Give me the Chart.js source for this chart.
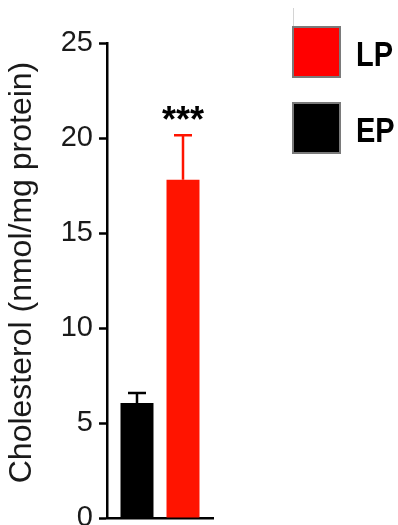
<!DOCTYPE html>
<html>
<head>
<meta charset="utf-8">
<script src="https://cdn.jsdelivr.net/npm/chart.js@4/dist/chart.umd.min.js"></script>
<style>
  html, body { margin: 0; padding: 0; background: #ffffff; }
  #wrap { width: 398px; height: 525px; }
</style>
</head>
<body>
<div id="wrap"><canvas id="c" width="398" height="525"></canvas></div>
<script>
// Cholesterol content per group (mean and upper error)
const groups = ['EP', 'LP'];
const means = [6.05, 17.8];
const errors = [0.53, 2.35];
const barColors = ['#000000', '#ff1400'];
const swatchColors = ['#000000', '#ff0000'];
const yTicks = [0, 5, 10, 15, 20, 25];
const yTitle = 'Cholesterol (nmol/mg protein)';
const significance = ['', '***'];

const FONT = "'Liberation Sans', Arial, Helvetica, sans-serif";

// Upward error bars with caps, drawn from each bar's top
const errorBars = {
  id: 'errorBars',
  afterDatasetsDraw(chart) {
    const ctx = chart.ctx;
    const y = chart.scales.y;
    chart.data.datasets.forEach((ds, i) => {
      const bar = chart.getDatasetMeta(i).data[0];
      if (!bar) return;
      const top = y.getPixelForValue(ds.data[0] + errors[i]);
      ctx.save();
      ctx.strokeStyle = ds.backgroundColor;
      ctx.lineWidth = 2.5;
      ctx.beginPath();
      ctx.moveTo(bar.x, bar.y);
      ctx.lineTo(bar.x, top);
      ctx.moveTo(bar.x - 9, top);
      ctx.lineTo(bar.x + 9, top);
      ctx.stroke();
      if (significance[i]) {
        ctx.fillStyle = '#000000';
        ctx.font = 'bold 36px ' + FONT;
        ctx.textAlign = 'center';
        ctx.textBaseline = 'alphabetic';
        ctx.fillText(significance[i], bar.x, top - 3);
      }
      ctx.restore();
    });
  }
};

// Rotated y-axis title
const yAxisTitle = {
  id: 'yAxisTitle',
  afterDraw(chart) {
    const ctx = chart.ctx;
    const area = chart.chartArea;
    ctx.save();
    ctx.translate(22, (area.top + area.bottom) / 2 - 8);
    ctx.rotate(-Math.PI / 2);
    ctx.fillStyle = '#1a1a1a';
    ctx.font = '32px ' + FONT;
    ctx.textAlign = 'center';
    ctx.textBaseline = 'middle';
    ctx.fillText(yTitle, 0, 0);
    ctx.restore();
  }
};

// Boxed legend on the right, LP listed first
const boxLegend = {
  id: 'boxLegend',
  afterDraw(chart) {
    const ctx = chart.ctx;
    const x0 = 293, boxW = 47, boxH = 50;
    const rows = [27, 103];
    const order = [1, 0];
    ctx.save();
    ctx.strokeStyle = '#d4d4d4';
    ctx.lineWidth = 1;
    ctx.beginPath();
    ctx.moveTo(x0 + 0.5, 8);
    ctx.lineTo(x0 + 0.5, rows[0]);
    ctx.stroke();
    order.forEach((gi, r) => {
      const top = rows[r];
      ctx.fillStyle = swatchColors[gi];
      ctx.fillRect(x0, top, boxW, boxH);
      ctx.strokeStyle = '#7a7a7a';
      ctx.lineWidth = 2;
      ctx.strokeRect(x0, top, boxW, boxH);
      ctx.save();
      ctx.translate(356, top + 39);
      ctx.scale(1, 1.2);
      ctx.fillStyle = '#000000';
      ctx.font = 'bold 29px ' + FONT;
      ctx.textAlign = 'left';
      ctx.textBaseline = 'alphabetic';
      ctx.fillText(groups[gi], 0, 0);
      ctx.restore();
    });
    ctx.restore();
  }
};

new Chart(document.getElementById('c'), {
  type: 'bar',
  data: {
    labels: [''],
    datasets: groups.map((g, i) => ({
      label: g,
      data: [means[i]],
      backgroundColor: barColors[i],
      borderWidth: 0,
      categoryPercentage: 0.868,
      barPercentage: 0.717
    }))
  },
  options: {
    responsive: false,
    animation: false,
    devicePixelRatio: 1,
    layout: { padding: { top: 43, right: 185, bottom: 0, left: 0 } },
    plugins: {
      legend: { display: false },
      tooltip: { enabled: false }
    },
    scales: {
      x: {
        grid: { display: false },
        ticks: { display: false },
        border: { display: true, color: '#000000', width: 2.5 },
        afterFit(scale) { scale.height = 7; }
      },
      y: {
        min: 0,
        max: 25,
        afterBuildTicks(scale) { scale.ticks = yTicks.map(v => ({ value: v })); },
        ticks: {
          color: '#1a1a1a',
          font: { family: FONT, size: 29 },
          padding: 6
        },
        grid: {
          drawOnChartArea: false,
          drawTicks: true,
          tickLength: 8,
          tickWidth: 2.5,
          tickColor: '#000000'
        },
        border: { display: true, color: '#000000', width: 2.5 },
        afterFit(scale) {
          scale.width = 107;
          scale.paddingTop = 0;
          scale.paddingBottom = 0;
        }
      }
    }
  },
  plugins: [errorBars, yAxisTitle, boxLegend]
});
</script>
</body>
</html>
